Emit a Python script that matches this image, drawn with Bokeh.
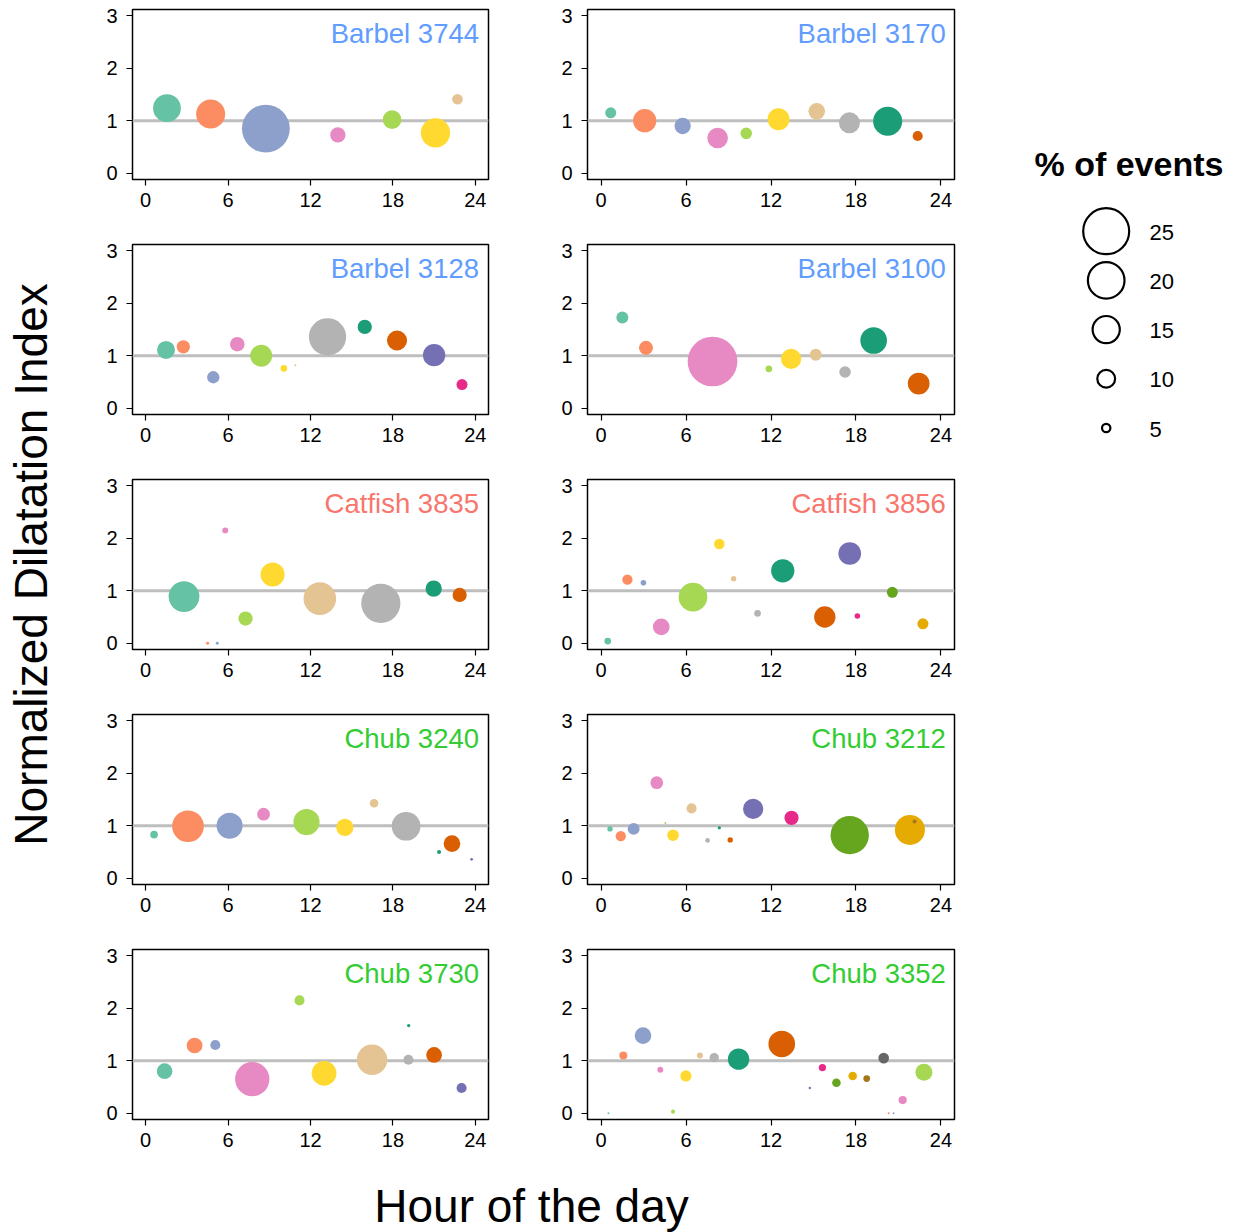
import numpy as np
from bokeh.plotting import figure
from bokeh.layouts import row, column
from bokeh.models import Range1d, Span, Label, FixedTicker
from bokeh.core.properties import value
from bokeh.embed import file_html
from bokeh.resources import INLINE

FONT = "Liberation Sans"

# ---------------- data (hour of day, normalized dilatation index, % of events) ----------------
b3744_hour = [1.55, 4.73, 8.75, 13.99, 17.94, 21.10, 22.70]
b3744_ndi = [1.24, 1.13, 0.85, 0.73, 1.02, 0.77, 1.41]
b3744_pct = [15.3, 16.0, 26.0, 8.7, 10.5, 16.1, 6.2]

b3170_hour = [0.68, 3.08, 5.76, 8.23, 10.25, 12.53, 15.23, 17.54, 20.24, 22.36]
b3170_ndi = [1.15, 1.00, 0.90, 0.67, 0.76, 1.03, 1.18, 0.96, 0.99, 0.71]
b3170_pct = [6.4, 12.9, 9.2, 11.5, 6.7, 12.2, 9.4, 11.7, 16.0, 5.9]

b3128_hour = [1.48, 2.74, 4.92, 6.67, 8.41, 10.06, 10.90, 13.24, 15.95, 18.30, 21.00, 23.03]
b3128_ndi = [1.11, 1.17, 0.59, 1.22, 1.00, 0.76, 0.82, 1.36, 1.55, 1.29, 1.01, 0.45]
b3128_pct = [10.1, 7.6, 7.1, 8.3, 12.2, 4.1, 1.6, 20.4, 8.1, 11.2, 12.4, 6.4]

b3100_hour = [1.50, 3.17, 7.70, 7.87, 11.85, 13.42, 15.16, 17.23, 19.25, 22.43]
b3100_ndi = [1.73, 1.15, 0.95, 0.89, 0.75, 0.94, 1.02, 0.69, 1.29, 0.47]
b3100_pct = [6.9, 8.0, 2.0, 27.0, 4.1, 11.3, 6.9, 6.7, 14.7, 12.1]

c3835_hour = [2.79, 4.51, 5.21, 5.79, 7.27, 9.24, 12.68, 17.12, 20.97, 22.86]
c3835_ndi = [0.89, 0.00, 0.00, 2.15, 0.47, 1.31, 0.85, 0.76, 1.04, 0.92]
c3835_pct = [16.9, 2.1, 2.1, 3.7, 8.1, 13.3, 17.9, 21.4, 9.2, 8.1]

c3856_hour = [0.47, 1.86, 2.99, 4.25, 6.49, 8.35, 9.36, 11.05, 12.83, 15.80, 17.56, 18.10, 20.57, 22.73]
c3856_ndi = [0.04, 1.21, 1.15, 0.31, 0.88, 1.89, 1.23, 0.57, 1.38, 0.50, 1.71, 0.52, 0.97, 0.37]
c3856_pct = [4.1, 6.0, 3.5, 9.4, 15.8, 6.2, 3.4, 4.1, 12.9, 11.9, 12.6, 3.5, 6.4, 6.4]

h3240_hour = [0.61, 3.08, 6.11, 8.58, 11.71, 14.50, 16.63, 18.96, 21.36, 22.30, 23.73]
h3240_ndi = [0.83, 0.99, 1.00, 1.22, 1.07, 0.97, 1.43, 0.99, 0.50, 0.66, 0.36]
h3240_pct = [4.6, 17.4, 14.4, 7.3, 14.5, 9.7, 5.1, 15.8, 2.7, 9.4, 2.0]

h3212_hour = [0.63, 1.39, 2.30, 3.93, 4.54, 5.08, 6.39, 7.52, 8.35, 9.12, 10.74, 13.45, 17.56, 21.81, 22.14]
h3212_ndi = [0.94, 0.80, 0.94, 1.82, 1.05, 0.82, 1.33, 0.72, 0.96, 0.73, 1.32, 1.15, 0.82, 0.92, 1.08]
h3212_pct = [3.4, 6.0, 6.9, 7.3, 1.6, 6.7, 5.9, 3.0, 2.3, 3.4, 11.3, 8.1, 20.9, 16.5, 2.7]

h3730_hour = [1.38, 3.56, 5.07, 7.76, 11.20, 12.99, 16.48, 19.13, 19.15, 21.00, 23.00]
h3730_ndi = [0.80, 1.29, 1.30, 0.65, 2.15, 0.76, 1.02, 1.02, 1.67, 1.11, 0.48]
h3730_pct = [8.9, 8.9, 5.9, 18.8, 5.9, 13.7, 16.7, 5.9, 2.3, 8.9, 5.9]

h3352_hour = [0.52, 1.57, 2.96, 4.18, 5.08, 5.99, 6.98, 7.99, 9.71, 12.76, 14.74, 15.63, 16.62,
              17.77, 18.76, 19.96, 20.10, 20.31, 20.66, 21.30, 22.80]
h3352_ndi = [0.00, 1.10, 1.48, 0.83, 0.03, 0.71, 1.10, 1.06, 1.03, 1.32, 0.48, 0.87, 0.58,
             0.71, 0.66, 1.05, 0.00, 0.00, 0.00, 0.25, 0.78]
h3352_pct = [1.6, 4.8, 9.4, 3.7, 2.7, 6.5, 3.7, 5.5, 11.9, 14.7, 1.8, 4.4, 5.1,
             5.1, 4.1, 6.2, 0.6, 1.6, 1.6, 4.9, 9.6]

panel_titles = ["Barbel 3744", "Barbel 3170", "Barbel 3128", "Barbel 3100",
                "Catfish 3835", "Catfish 3856", "Chub 3240", "Chub 3212",
                "Chub 3730", "Chub 3352"]
panel_species = ["Barbel", "Barbel", "Barbel", "Barbel", "Catfish", "Catfish",
                 "Chub", "Chub", "Chub", "Chub"]
panel_data = [
    (b3744_hour, b3744_ndi, b3744_pct), (b3170_hour, b3170_ndi, b3170_pct),
    (b3128_hour, b3128_ndi, b3128_pct), (b3100_hour, b3100_ndi, b3100_pct),
    (c3835_hour, c3835_ndi, c3835_pct), (c3856_hour, c3856_ndi, c3856_pct),
    (h3240_hour, h3240_ndi, h3240_pct), (h3212_hour, h3212_ndi, h3212_pct),
    (h3730_hour, h3730_ndi, h3730_pct), (h3352_hour, h3352_ndi, h3352_pct),
]
x_ticks = [0, 6, 12, 18, 24]
y_ticks = [0, 1, 2, 3]
legend_values = [25, 20, 15, 10, 5]

# ---------------- styles ----------------
species_color = {"Barbel": "#619CFF", "Catfish": "#F8766D", "Chub": "#33CC33"}
palette = ["#66C2A5", "#FC8D62", "#8DA0CB", "#E78AC3", "#A6D854", "#FFD92F", "#E5C494", "#B3B3B3",
           "#1B9E77", "#D95F02", "#7570B3", "#E7298A", "#66A61E", "#E6AB02", "#A6761D", "#666666"]


def size_of(pct):
    return np.clip(1.88 * np.asarray(pct, dtype=float) - 1.0, 0.3, None)


ROW_H = 235
FRAME_H = 170
TOP = 9


def make_panel(idx):
    hour, ndi, pct = panel_data[idx]
    left_col = idx % 2 == 0
    if left_col:
        w, bl, br = 480, 72, 52
        title_x = 24.27
    else:
        w, bl, br = 460, 47, 46
        title_x = 24.35
    p = figure(width=w, height=ROW_H, x_range=Range1d(-0.96, 24.96), y_range=Range1d(-0.12, 3.12),
               output_backend="svg", toolbar_location=None,
               min_border_left=bl, min_border_right=br, min_border_top=TOP,
               min_border_bottom=ROW_H - TOP - FRAME_H)
    p.outline_line_color = "black"
    p.outline_line_width = 1.5
    p.grid.visible = False
    for ax, ticks in ((p.xaxis, x_ticks), (p.yaxis, y_ticks)):
        ax.ticker = FixedTicker(ticks=ticks)
        ax.axis_line_color = None
        ax.major_tick_line_color = "black"
        ax.major_tick_line_width = 1.2
        ax.major_tick_out = 6
        ax.major_tick_in = 0
        ax.minor_tick_line_color = None
        ax.major_label_text_font = FONT
        ax.major_label_text_font_size = "20px"
        ax.major_label_text_color = "black"
    p.xaxis.major_label_standoff = 7
    p.yaxis.major_label_standoff = 9
    p.add_layout(Span(location=1, dimension="width", line_color="#BEBEBE", line_width=3.2,
                      level="underlay"))
    colors = [palette[i % len(palette)] for i in range(len(hour))]
    p.scatter(x=hour, y=ndi, size=size_of(pct), fill_color=colors, line_color=None,
              marker="circle")
    p.add_layout(Label(x=title_x, y=2.66, text=panel_titles[idx], text_align="right",
                       text_baseline="middle", text_font=FONT, text_font_size="27.5px",
                       text_color=species_color[panel_species[idx]]))
    return p


panels = [make_panel(i) for i in range(10)]
left_col = column(*[panels[i] for i in range(0, 10, 2)], spacing=0)
right_col = column(*[panels[i] for i in range(1, 10, 2)], spacing=0)

GRID_H = ROW_H * 5

# y-axis title
ylab = figure(width=60, height=GRID_H, x_range=Range1d(0, 60), y_range=Range1d(GRID_H, 0),
              output_backend="svg", toolbar_location=None, x_axis_location=None,
              y_axis_location=None, min_border=0)
ylab.outline_line_color = None
ylab.grid.visible = False
ylab.text(x=[30], y=[564], text=["Normalized Dilatation Index"], angle=np.pi / 2,
          text_align="center", text_baseline="middle", text_font=value(FONT),
          text_font_size="46px", text_color="black")

# size legend
leg = figure(width=236, height=GRID_H, x_range=Range1d(1000, 1236), y_range=Range1d(GRID_H, 0),
             output_backend="svg", toolbar_location=None, x_axis_location=None,
             y_axis_location=None, min_border=0)
leg.outline_line_color = None
leg.grid.visible = False
leg.text(x=[1034], y=[163.5], text=["% of events"], text_align="left", text_baseline="middle",
         text_font=value(FONT), text_font_style="bold", text_font_size="34px", text_color="black")
ly = [230.7 + 49.2 * i for i in range(len(legend_values))]
leg.scatter(x=[1105.7] * len(legend_values), y=ly, size=size_of(legend_values), fill_color=None,
            line_color="black", line_width=2.2, marker="circle")
leg.text(x=[1149] * len(legend_values), y=[v + 1 for v in ly], text=[str(v) for v in legend_values],
         text_align="left", text_baseline="middle", text_font=value(FONT), text_font_size="22px",
         text_color="black")

# x-axis title
XH = 1232 - GRID_H
xlab = figure(width=1236, height=XH, x_range=Range1d(0, 1236), y_range=Range1d(1232, GRID_H),
              output_backend="svg", toolbar_location=None, x_axis_location=None,
              y_axis_location=None, min_border=0)
xlab.outline_line_color = None
xlab.grid.visible = False
xlab.text(x=[531], y=[1205], text=["Hour of the day"], text_align="center",
          text_baseline="middle", text_font=value(FONT), text_font_size="46px",
          text_color="black")

layout = column(row(ylab, left_col, right_col, leg, spacing=0), xlab, spacing=0)

open("out.html", "w").write(file_html(layout, INLINE))
